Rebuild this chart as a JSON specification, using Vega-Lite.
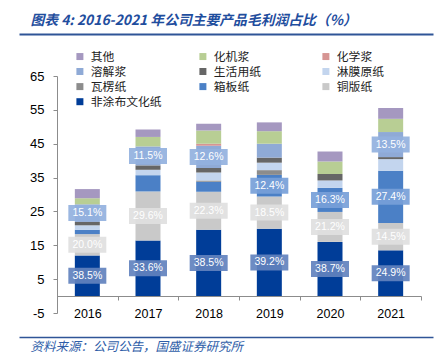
{
  "$schema": "https://vega.github.io/schema/vega-lite/v6.json",
  "autosize": "none",
  "width": 364,
  "height": 237,
  "padding": {"left": 57, "top": 76, "right": 20, "bottom": 50},
  "config": {"view": {"stroke": null}, "font": "Liberation Sans",
    "axisY": {"title": null, "grid": false, "labelOverlap": false, "domainColor": "#8c8c8c", "tickColor": "#8c8c8c", "tickSize": 4, "labelPadding": 9,
      "labelFont": "Liberation Sans", "labelFontSize": 13, "labelColor": "#000", "labelExpr": "'' + datum.value"}},
  "data": {"values": [
    {"year": "2016", "cat": "非涂布文化纸", "value": 12.0, "label": "38.5%"},
    {"year": "2016", "cat": "铜版纸", "value": 6.3, "label": "20.0%"},
    {"year": "2016", "cat": "箱板纸", "value": 1.3},
    {"year": "2016", "cat": "淋膜原纸", "value": 1.3},
    {"year": "2016", "cat": "生活用纸", "value": 1.0},
    {"year": "2016", "cat": "溶解浆", "value": 5.2, "label": "15.1%"},
    {"year": "2016", "cat": "化机浆", "value": 1.8},
    {"year": "2016", "cat": "其他", "value": 2.7},
    {"year": "2017", "cat": "非涂布文化纸", "value": 16.4, "label": "33.6%"},
    {"year": "2017", "cat": "铜版纸", "value": 14.5, "label": "29.6%"},
    {"year": "2017", "cat": "箱板纸", "value": 4.8},
    {"year": "2017", "cat": "淋膜原纸", "value": 1.6},
    {"year": "2017", "cat": "生活用纸", "value": 1.3},
    {"year": "2017", "cat": "溶解浆", "value": 5.6, "label": "11.5%"},
    {"year": "2017", "cat": "化机浆", "value": 2.8},
    {"year": "2017", "cat": "其他", "value": 2.2},
    {"year": "2018", "cat": "非涂布文化纸", "value": 19.6, "label": "38.5%"},
    {"year": "2018", "cat": "铜版纸", "value": 11.2, "label": "22.3%"},
    {"year": "2018", "cat": "箱板纸", "value": 3.0},
    {"year": "2018", "cat": "瓦楞纸", "value": 0.3},
    {"year": "2018", "cat": "淋膜原纸", "value": 2.4},
    {"year": "2018", "cat": "生活用纸", "value": 1.3},
    {"year": "2018", "cat": "溶解浆", "value": 6.6, "label": "12.6%"},
    {"year": "2018", "cat": "化学浆", "value": 0.6},
    {"year": "2018", "cat": "化机浆", "value": 3.9},
    {"year": "2018", "cat": "其他", "value": 2.0},
    {"year": "2019", "cat": "非涂布文化纸", "value": 19.9, "label": "39.2%"},
    {"year": "2019", "cat": "铜版纸", "value": 9.5, "label": "18.5%"},
    {"year": "2019", "cat": "箱板纸", "value": 6.4, "label": "12.4%"},
    {"year": "2019", "cat": "瓦楞纸", "value": 1.4},
    {"year": "2019", "cat": "淋膜原纸", "value": 2.2},
    {"year": "2019", "cat": "生活用纸", "value": 1.5},
    {"year": "2019", "cat": "溶解浆", "value": 4.1},
    {"year": "2019", "cat": "化机浆", "value": 3.7},
    {"year": "2019", "cat": "其他", "value": 2.6},
    {"year": "2020", "cat": "非涂布文化纸", "value": 16.0, "label": "38.7%"},
    {"year": "2020", "cat": "铜版纸", "value": 8.85, "label": "21.2%"},
    {"year": "2020", "cat": "箱板纸", "value": 7.1, "label": "16.3%"},
    {"year": "2020", "cat": "淋膜原纸", "value": 2.2},
    {"year": "2020", "cat": "生活用纸", "value": 1.9},
    {"year": "2020", "cat": "化机浆", "value": 3.7},
    {"year": "2020", "cat": "其他", "value": 2.95},
    {"year": "2021", "cat": "非涂布文化纸", "value": 13.5, "label": "24.9%"},
    {"year": "2021", "cat": "铜版纸", "value": 8.1, "label": "14.5%"},
    {"year": "2021", "cat": "箱板纸", "value": 15.4, "label": "27.4%"},
    {"year": "2021", "cat": "淋膜原纸", "value": 3.45},
    {"year": "2021", "cat": "生活用纸", "value": 0.6},
    {"year": "2021", "cat": "溶解浆", "value": 7.4, "label": "13.5%"},
    {"year": "2021", "cat": "化机浆", "value": 3.9},
    {"year": "2021", "cat": "其他", "value": 3.2}
  ]},
  "transform": [
    {"stack": "value", "groupby": ["year"], "as": ["v0", "v1"]},
    {"calculate": "(datum.v0 + datum.v1) / 2", "as": "mid"}
  ],
  "resolve": {"scale": {"x": "independent"}, "axis": {"x": "independent"}},
  "layer": [
    {
      "mark": {"type": "bar", "width": {"band": 0.412}},
      "encoding": {
        "x": {"field": "year", "type": "nominal", "sort": null,
          "scale": {"paddingInner": 0, "paddingOuter": 0},
          "axis": {"orient": "bottom", "offset": -17, "title": null, "labelAngle": 0,
            "domainColor": "#8c8c8c", "tickColor": "#8c8c8c", "tickSize": 4, "tickBand": "extent",
            "labelFont": "Liberation Sans", "labelFontSize": 12.5, "labelColor": "#000", "labelPadding": 7}},
        "y": {"field": "v0", "type": "quantitative",
          "scale": {"domain": [-5, 65], "nice": false, "zero": false},
          "axis": {"values": [-5, 5, 15, 25, 35, 45, 55, 65]}},
        "y2": {"field": "v1"},
        "color": {"field": "cat", "type": "nominal",
          "scale": {"domain": ["其他", "化机浆", "化学浆", "溶解浆", "生活用纸", "淋膜原纸", "瓦楞纸", "箱板纸", "铜版纸", "非涂布文化纸"],
            "range": ["#A598C0", "#B8CE94", "#D69593", "#8FAAD6", "#666666", "#C3D5EE", "#8C8C8C", "#4B80C6", "#C9C9C9", "#003D98"]},
          "legend": {"orient": "none", "direction": "horizontal", "legendX": 17, "legendY": -25.5, "columns": 3, "gridAlign": "all",
            "columnPadding": 35, "rowPadding": 2.1, "title": null, "padding": 0,
            "symbolType": "square", "symbolSize": 49, "symbolStrokeWidth": 0, "labelOffset": 5,
            "labelFont": "Liberation Sans, Noto Sans CJK SC", "labelFontSize": 11.8, "labelColor": "#222"}}
      }
    },
    {
      "transform": [{"filter": "isValid(datum.label)"}],
      "mark": {"type": "point", "shape": "M-1,-0.421H1V0.421H-1Z", "size": 1444, "filled": true, "opacity": 0.92, "strokeWidth": 0},
      "encoding": {
        "x": {"field": "year", "type": "nominal", "sort": null, "axis": null, "scale": {"padding": 0.5}},
        "y": {"field": "mid", "type": "quantitative", "axis": {"values": [-5, 5, 15, 25, 35, 45, 55, 65]}},
        "fill": {"field": "cat", "type": "nominal", "legend": null,
          "scale": {"domain": ["非涂布文化纸", "铜版纸", "溶解浆", "箱板纸"], "range": ["#6282BE", "#E0E0E0", "#93B1DE", "#77A0D8"]}}
      }
    },
    {
      "transform": [{"filter": "isValid(datum.label)"}],
      "mark": {"type": "text", "color": "#ffffff", "font": "Liberation Sans", "fontSize": 10.5, "baseline": "middle", "align": "center"},
      "encoding": {
        "x": {"field": "year", "type": "nominal", "sort": null, "axis": null, "scale": {"padding": 0.5}},
        "y": {"field": "mid", "type": "quantitative", "axis": {"values": [-5, 5, 15, 25, 35, 45, 55, 65]}},
        "text": {"field": "label"}
      }
    },
    {
      "mark": {"type": "rule", "opacity": 0},
      "encoding": {
        "x": {"datum": 0, "type": "quantitative",
          "scale": {"domain": [0, 1], "range": [-38, 376]},
          "axis": {"orient": "top", "offset": 42, "domainColor": "#2F5597", "domainWidth": 2, "ticks": false, "labels": false, "grid": false,
            "title": "图表 4:  2016-2021 年公司主要产品毛利润占比（%）", "titleX": -27, "titleY": -14, "titleAlign": "left", "titleBaseline": "middle", "titleAngle": 0,
            "titleFont": "Noto Sans CJK SC", "titleFontSize": 13.8, "titleFontStyle": "italic", "titleFontWeight": "bold", "titleColor": "#1F4E9E"}}
      }
    },
    {
      "mark": {"type": "rule", "opacity": 0},
      "encoding": {
        "x": {"datum": 0, "type": "quantitative",
          "scale": {"domain": [0, 1], "range": [-38, 376]},
          "axis": {"orient": "bottom", "offset": 24, "domainColor": "#2F5597", "domainWidth": 1.5, "ticks": false, "labels": false, "grid": false,
            "title": "资料来源：公司公告，国盛证券研究所", "titleX": -27, "titleY": 9, "titleAlign": "left", "titleBaseline": "middle", "titleAngle": 0,
            "titleFont": "Noto Sans CJK SC", "titleFontSize": 12.5, "titleFontStyle": "italic", "titleFontWeight": "normal", "titleColor": "#2E5DA8"}}
      }
    }
  ]
}
